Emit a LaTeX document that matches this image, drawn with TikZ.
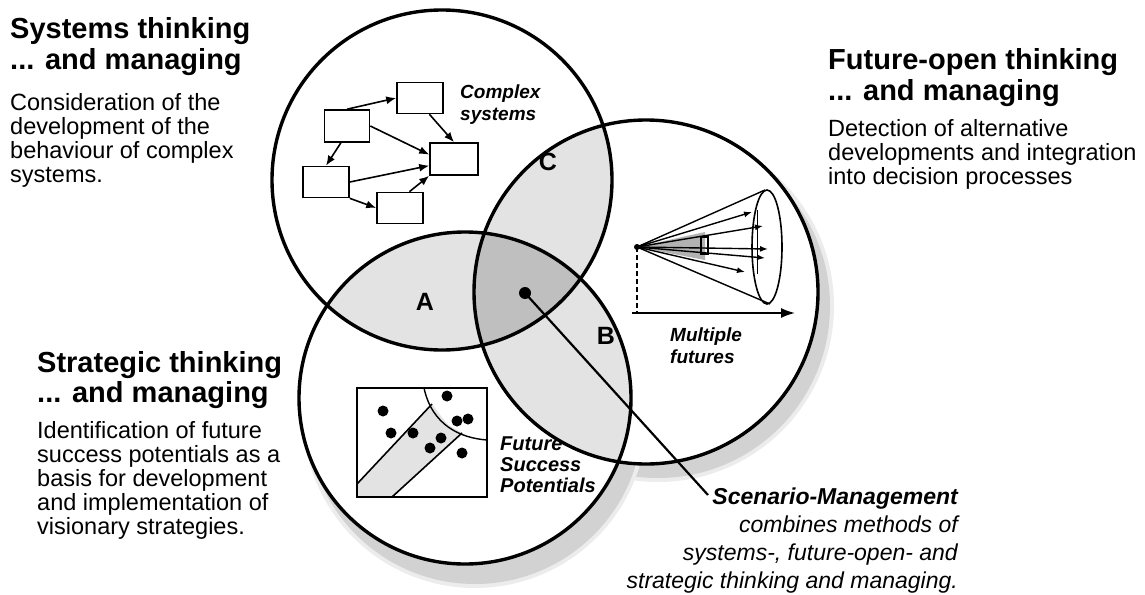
\documentclass[tikz,border=0pt]{standalone}
\usepackage{fontspec}
\setmainfont{Liberation Sans}
\usetikzlibrary{positioning, arrows.meta, calc}

\tikzset{
  ring/.style={line width=3.4pt, draw=black},
  headline/.style={font=\fontsize{29}{31}\selectfont\bfseries, align=left, anchor=base west, inner sep=0pt},
  bodytext/.style={font=\fontsize{23.5}{24}\selectfont, align=left, anchor=base west, inner sep=0pt},
  inlabel/.style={font=\fontsize{19}{22}\selectfont\bfseries\itshape, align=left, anchor=base west, inner sep=0pt},
  zone/.style={font=\fontsize{25}{25}\selectfont\bfseries, inner sep=0pt},
  sysbox/.style={draw, line width=1.6pt, minimum width=46pt, minimum height=31pt, inner sep=0pt},
  sysarrow/.style={line width=1.6pt, -{Latex[length=10pt, width=8pt]}},
  spot/.style={circle, fill=black, inner sep=0pt, minimum size=11pt},
  pairzone/.style={fill=gray!22},
  corezone/.style={fill=gray!50},
}

\begin{document}
\begin{tikzpicture}[x=1pt, y=-1pt]
  \useasboundingbox (0,0) rectangle (1145,594);

  % circle centres
  \coordinate (sys) at (442,180);
  \coordinate (fut) at (646,292);
  \coordinate (str) at (465,398);

  % shadows
  \fill[gray!15] ($(fut)+(12,14)$) circle[radius=176pt];
  \fill[gray!35] ($(fut)+(12,14)$) circle[radius=172pt];
  \fill[gray!15] ($(str)+(10,18)$) circle[radius=172pt];
  \fill[gray!35] ($(str)+(10,18)$) circle[radius=168pt];

  \fill[white] (sys) circle[radius=170pt];
  \fill[white] (fut) circle[radius=172pt];
  \fill[white] (str) circle[radius=166pt];

  % overlaps
  \begin{scope}
    \clip (sys) circle[radius=170pt];
    \fill[pairzone] (fut) circle[radius=172pt];
    \fill[pairzone] (str) circle[radius=166pt];
  \end{scope}
  \begin{scope}
    \clip (fut) circle[radius=172pt];
    \fill[pairzone] (str) circle[radius=166pt];
  \end{scope}
  \begin{scope}
    \clip (sys) circle[radius=170pt];
    \clip (fut) circle[radius=172pt];
    \fill[corezone] (str) circle[radius=166pt];
  \end{scope}

  \draw[ring] (sys) circle[radius=170pt];
  \draw[ring] (fut) circle[radius=172pt];
  \draw[ring] (str) circle[radius=166pt];

  \node[zone] (zA) at (425,302) {A};
  \node[zone] (zB) at (606,336) {B};
  \node[zone] (zC) at (548,162) {C};

  % complex systems
  \node[sysbox, minimum width=45pt, minimum height=32pt] (cs1) at (347,126) {};
  \node[sysbox] (cs2) at (420,98) {};
  \node[sysbox, minimum width=48pt, minimum height=32pt] (cs3) at (454,159) {};
  \node[sysbox] (cs4) at (326,182) {};
  \node[sysbox] (cs5) at (400,208) {};
  \draw[sysarrow] (cs1.north) -- (cs2.west);
  \draw[sysarrow] (cs2.300) -- (cs3.north);
  \draw[sysarrow] (cs1.east) -- (cs3.170);
  \draw[sysarrow] (cs1.250) -- (cs4.north);
  \draw[sysarrow] (cs4.east) -- (cs3.195);
  \draw[sysarrow] (cs4.south east) -- (cs5.west);
  \draw[sysarrow] (cs5.60) -- (cs3.south west);
  \node[inlabel] (cslabel) at (460,120) {Complex\\systems};

  % multiple futures
  \coordinate (apex) at (637,247);
  \coordinate (foot) at (637,313);
  \coordinate (axisend) at (795,313);
  \coordinate (rimtop) at (765,190);
  \coordinate (rimbot) at (770,304);
  \fill[gray!60] (apex) -- (705,232) -- (705,260) -- cycle;
  \draw[line width=1.4pt] (rimtop) -- (apex) -- (rimbot);
  \draw[line width=1.6pt] (767,247) ellipse[x radius=15pt, y radius=57pt];
  \draw[line width=1pt] (757,210) -- (757,274);
  \draw[line width=1.2pt] (701,237) rectangle (708,254);
  \foreach \tx/\ty in {752/212, 763/226, 768/249, 765/258, 745/272}
    \draw[line width=1.4pt, -{Latex[length=8pt, width=6pt]}] (apex) -- (\tx,\ty);
  \fill (apex) circle[radius=3pt];
  \draw[line width=2.2pt, dash pattern=on 5pt off 3pt] (apex) -- (foot);
  \draw[line width=1.6pt, -{Latex[length=14pt, width=10pt]}] (632,313) -- (axisend);
  \node[inlabel] (mflabel) at (670,363) {Multiple\\futures};

  % success potentials
  \fill[pairzone] (357,484) -- (432,404) -- (447,424) -- (462,433) -- (392,497) -- (357,497) -- cycle;
  \draw[line width=1.6pt] (357,388) rectangle (487,497);
  \draw[line width=1.4pt] (424,388) .. controls (432,425) and (460,438) .. (487,440);
  \draw[line width=1.6pt] (357,484) -- (432,404);
  \draw[line width=1.6pt] (392,497) -- (462,433);
  \foreach \px/\py in {383/411, 447/396, 457/421, 468/419, 391/433, 413/433, 441/438, 430/448, 462/453}
    \node[spot] at (\px,\py) {};
  \node[inlabel, font=\fontsize{20}{21}\selectfont\bfseries\itshape] (splabel) at (500,492) {Future\\Success\\Potentials};

  % scenario management
  \node[spot, minimum size=12pt] (core) at (525,293) {};
  \coordinate (pointer) at (708,495);
  \draw[line width=2.2pt] (core.center) -- (pointer);
  \node[font=\fontsize{23}{27.7}\selectfont\itshape, align=right, anchor=base east, inner sep=0pt] (scen) at (958,588)
  {\textbf{Scenario-Management}\\combines methods of\\systems-, future-open- and\\strategic thinking and managing.};

  % side texts
  \node[headline] (sysHead) at (10,70) {Systems thinking\\... and managing};
  \node[bodytext] (sysBody) at (10,182)
  {Consideration of the\\development of the\\behaviour of complex\\systems.};
  \node[headline] (futHead) at (828,100) {Future-open thinking\\... and managing};
  \node[bodytext] (futBody) at (828,184)
  {Detection of alternative\\developments and integration\\into decision processes};
  \node[headline, font=\fontsize{29}{30}\selectfont\bfseries] (strHead) at (37,402) {Strategic thinking\\... and managing};
  \node[bodytext] (strBody) at (37,534)
  {Identification of future\\success potentials as a\\basis for development\\and implementation of\\visionary strategies.};
\end{tikzpicture}
\end{document}
